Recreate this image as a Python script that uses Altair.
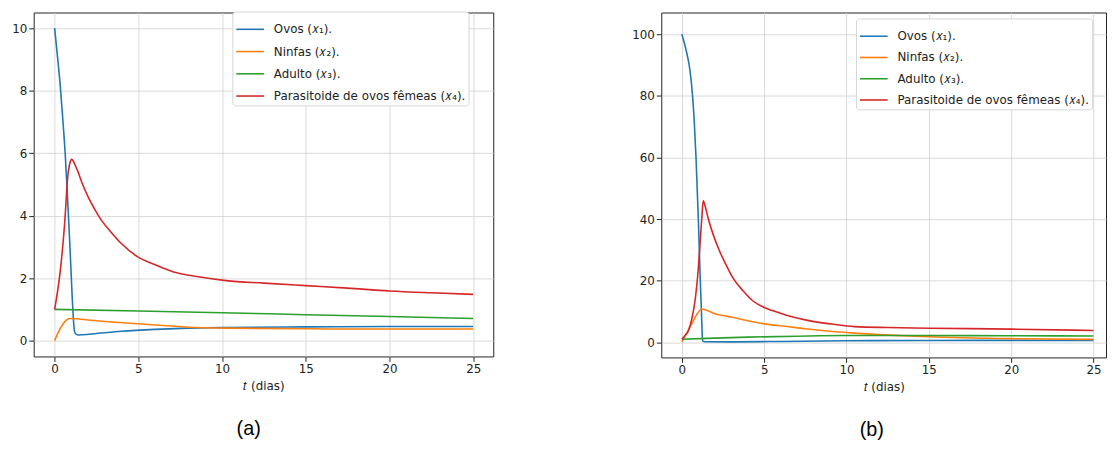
import altair as alt
import pandas as pd

SERIES = ["Ovos (𝑥₁).", "Ninfas (𝑥₂).", "Adulto (𝑥₃).", "Parasitoide de ovos fêmeas (𝑥₄)."]
COLORS = ["#1f77b4", "#ff7f0e", "#2ca02c", "#d62728"]

# ---- panel (a) ----
a_ovos_t = [0, 0.15, 0.33, 0.5, 0.63, 0.75, 0.88, 1.0, 1.06, 1.12, 1.18, 1.25, 1.4, 1.7, 2.5, 4, 6, 8, 10, 15, 20, 25]
a_ovos_v = [10, 9.2, 8.2, 7.0, 6.0, 4.8, 3.4, 2.0, 1.27, 0.7, 0.32, 0.22, 0.18, 0.19, 0.23, 0.3, 0.36, 0.4, 0.42, 0.44, 0.45, 0.45]
a_ninf_t = [0, 0.2, 0.4, 0.6, 0.8, 0.95, 1.3, 2, 3, 5, 8, 10.25, 15, 20, 25]
a_ninf_v = [0, 0.25, 0.45, 0.6, 0.69, 0.71, 0.70, 0.66, 0.61, 0.54, 0.43, 0.40, 0.38, 0.37, 0.37]
a_adul_t = [0, 5, 10, 15, 20, 25]
a_adul_v = [1.0, 0.95, 0.895, 0.83, 0.77, 0.71]
a_para_t = [0, 0.33, 0.59, 0.79, 0.92, 1.02, 1.12, 1.22, 1.4, 1.6, 2.0, 2.38, 2.8, 3.36, 4.0, 4.94, 6.0, 7.3, 8.5, 10.25, 12.5, 15, 17.5, 20, 22.5, 25]
a_para_v = [1.0, 2.2, 3.69, 5.27, 5.7, 5.8, 5.74, 5.62, 5.4, 5.1, 4.6, 4.22, 3.85, 3.48, 3.1, 2.69, 2.43, 2.17, 2.05, 1.92, 1.84, 1.76, 1.68, 1.59, 1.53, 1.48]

# ---- panel (b) ----
b_ovos_t = [0, 0.25, 0.5, 0.65, 0.75, 0.86, 0.93, 1.0, 1.06, 1.12, 1.19, 1.26, 1.4, 3, 6, 10, 15, 20, 25]
b_ovos_v = [100, 95, 88, 80, 72, 60, 50, 40, 30, 20, 10, 0.5, 0.2, 0.15, 0.3, 0.5, 0.6, 0.65, 0.65]
b_ninf_t = [0, 0.3, 0.6, 0.9, 1.1, 1.2, 1.4, 2, 2.5, 3, 4, 5, 6.3, 7.5, 9, 10.5, 12, 15, 20, 25]
b_ninf_v = [0.2, 3, 6, 9, 10.5, 10.8, 10.6, 9.3, 8.7, 8.2, 7.0, 6.0, 5.2, 4.4, 3.6, 3.0, 2.5, 1.8, 1.2, 0.96]
b_adul_t = [0, 1.5, 4, 7, 10, 15, 20, 25]
b_adul_v = [1.0, 1.3, 1.7, 2.0, 2.2, 2.2, 2.15, 2.05]
b_para_t = [0, 0.2, 0.4, 0.6, 0.8, 1.0, 1.14, 1.22, 1.3, 1.4, 1.6, 2.0, 2.3, 2.7, 3.1, 3.7, 4.3, 5.0, 5.5, 6.3, 7.5, 9, 10.5, 12.5, 15, 20, 25]
b_para_v = [1.0, 2.3, 3.8, 7.5, 13.5, 24, 34.8, 41, 46, 44.5, 40.2, 33.5, 29.5, 25, 20.9, 16.8, 13.5, 11.3, 10.3, 8.9, 7.3, 6.0, 5.1, 4.8, 4.6, 4.3, 3.85]

X_TICKS = [0, 5, 10, 15, 20, 25]
A_Y_TICKS = [0, 2, 4, 6, 8, 10]
B_Y_TICKS = [0, 20, 40, 60, 80, 100]


def build(parts):
    rows = []
    for i, (ts, vs) in enumerate(parts):
        for t, v in zip(ts, vs):
            rows.append({"t": t, "v": v, "s": SERIES[i], "k": i})
    return pd.DataFrame(rows)


df_a = build([(a_ovos_t, a_ovos_v), (a_ninf_t, a_ninf_v), (a_adul_t, a_adul_v), (a_para_t, a_para_v)])
df_b = build([(b_ovos_t, b_ovos_v), (b_ninf_t, b_ninf_v), (b_adul_t, b_adul_v), (b_para_t, b_para_v)])


def panel(df, xdom, ydom, yticks, width, height, lx, ly, rp, caption, cdx):
    legend = alt.Legend(
        title=None, orient="none", legendX=lx, legendY=ly, direction="vertical",
        symbolType="stroke", symbolSize=784, symbolStrokeWidth=1.6,
        labelFont="DejaVu Sans", labelFontSize=12, labelColor="#222", labelLimit=400,
        fillColor="white", strokeColor="#d6d6d6", cornerRadius=3,
        padding=3, rowPadding=rp, labelOffset=9,
    )
    return alt.Chart(df).mark_line(strokeWidth=1.6, interpolate="monotone", clip=True).encode(
        x=alt.X("t:Q", scale=alt.Scale(domain=xdom, nice=False, zero=False),
                axis=alt.Axis(values=X_TICKS, title="𝑡 (dias)")),
        y=alt.Y("v:Q", scale=alt.Scale(domain=ydom, nice=False, zero=False),
                axis=alt.Axis(values=yticks, title=None)),
        color=alt.Color("s:N", scale=alt.Scale(domain=SERIES, range=COLORS), sort=SERIES, legend=legend),
        order=alt.Order("t:Q"),
    ).properties(
        width=width, height=height,
        title=alt.TitleParams(caption, orient="bottom", anchor="middle", font="Liberation Sans",
                              fontSize=20, fontWeight="normal", color="#000", dx=cdx, offset=28),
    )


pa = panel(df_a, [-1.25, 26.2], [-0.506, 10.5], A_Y_TICKS, 465, 348, 201, -1, 1.5, "(a)", -15)
pb = panel(df_b, [-1.25, 25.76], [-4.9, 107.06], B_Y_TICKS, 450, 349, 197, 6, 0.5, "(b)", -12)

chart = alt.hconcat(pa, pb, spacing=170, bounds="flush").resolve_scale(
    color="independent"
).resolve_legend(color="independent").properties(
    padding={"left": 3, "top": 0, "right": 0, "bottom": 0}
).configure_view(
    stroke="#222", strokeWidth=1
).configure_axis(
    labelFont="DejaVu Sans", labelFontSize=12, labelColor="#222", labelPadding=2,
    tickColor="#222", tickSize=5, domain=False,
    grid=True, gridColor="#d0d0d0", gridWidth=0.8,
    titleFont="DejaVu Sans", titleFontSize=12, titleFontWeight="normal", titleColor="#222", titlePadding=6,
)

chart.save("out.html", embed_options={"renderer": "svg", "actions": False})
